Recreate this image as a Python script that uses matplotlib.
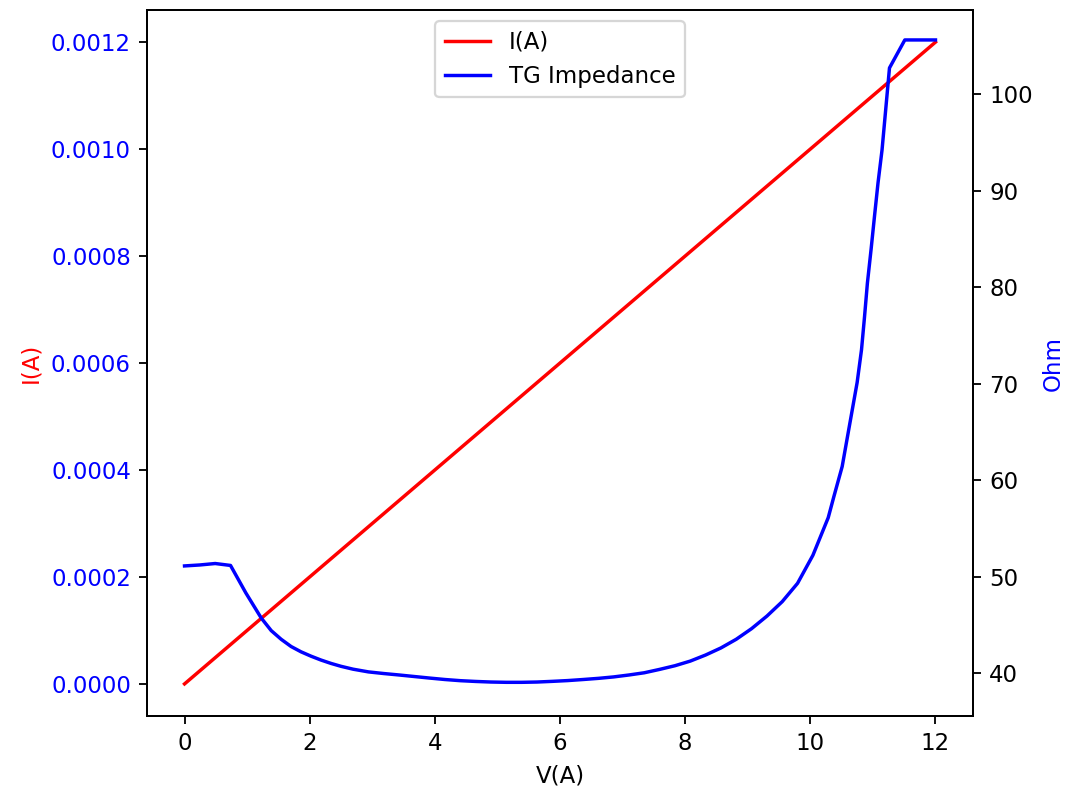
import matplotlib

matplotlib.use("Agg")
import matplotlib.pyplot as plt

# Sweep voltage (50 samples from 0 to 12) and current through the gate (A)
voltage = [
    0.0, 0.2449, 0.4898, 0.7347, 0.9796, 1.2245, 1.4694, 1.7143, 1.9592, 2.2041,
    2.4490, 2.6939, 2.9388, 3.1837, 3.4286, 3.6735, 3.9184, 4.1633, 4.4082, 4.6531,
    4.8980, 5.1429, 5.3878, 5.6327, 5.8776, 6.1224, 6.3673, 6.6122, 6.8571, 7.1020,
    7.3469, 7.5918, 7.8367, 8.0816, 8.3265, 8.5714, 8.8163, 9.0612, 9.3061, 9.5510,
    9.7959, 10.0408, 10.2857, 10.5306, 10.7755, 11.0204, 11.2653, 11.5102, 11.7551, 12.0,
]
current = [
    0.0, 2.449e-05, 4.898e-05, 7.347e-05, 9.796e-05, 1.2245e-04, 1.4694e-04, 1.7143e-04,
    1.9592e-04, 2.2041e-04, 2.4490e-04, 2.6939e-04, 2.9388e-04, 3.1837e-04, 3.4286e-04,
    3.6735e-04, 3.9184e-04, 4.1633e-04, 4.4082e-04, 4.6531e-04, 4.8980e-04, 5.1429e-04,
    5.3878e-04, 5.6327e-04, 5.8776e-04, 6.1224e-04, 6.3673e-04, 6.6122e-04, 6.8571e-04,
    7.1020e-04, 7.3469e-04, 7.5918e-04, 7.8367e-04, 8.0816e-04, 8.3265e-04, 8.5714e-04,
    8.8163e-04, 9.0612e-04, 9.3061e-04, 9.5510e-04, 9.7959e-04, 1.00408e-03, 1.02857e-03,
    1.05306e-03, 1.07755e-03, 1.10204e-03, 1.12653e-03, 1.15102e-03, 1.17551e-03, 1.2e-03,
]

# Transmission gate impedance (Ohm)
tg_voltage = [
    0.0, 0.245, 0.49, 0.735, 0.98, 1.226, 1.385, 1.544, 1.703, 1.862,
    2.021, 2.18, 2.34, 2.5, 2.694, 2.939, 3.184, 3.429, 3.673, 3.918,
    4.163, 4.408, 4.653, 4.898, 5.143, 5.388, 5.633, 5.878, 6.122, 6.367,
    6.612, 6.857, 7.102, 7.347, 7.592, 7.837, 8.082, 8.327, 8.571, 8.816,
    9.061, 9.306, 9.551, 9.796, 10.041, 10.286, 10.377, 10.509, 10.605, 10.748,
    10.818, 10.866, 10.912, 10.971, 11.025, 11.082, 11.146, 11.265, 11.51, 11.755,
    12.0,
]
tg_impedance = [
    51.1, 51.2, 51.35, 51.15, 48.3, 45.7, 44.4, 43.5, 42.75, 42.2,
    41.75, 41.35, 41.0, 40.7, 40.4, 40.12, 39.95, 39.8, 39.64, 39.48,
    39.33, 39.21, 39.13, 39.07, 39.04, 39.04, 39.07, 39.14, 39.22, 39.33,
    39.45, 39.6, 39.8, 40.03, 40.38, 40.76, 41.24, 41.87, 42.6, 43.5,
    44.6, 45.9, 47.4, 49.3, 52.2, 56.1, 58.3, 61.4, 64.9, 70.1,
    73.5, 76.9, 80.4, 83.9, 87.3, 90.8, 94.2, 102.7, 105.6, 105.6,
    105.6,
]

fig, ax1 = plt.subplots(figsize=(1076 / 165, 796 / 165), dpi=165)
fig.subplots_adjust(left=0.1366, right=0.9043, top=0.9874, bottom=0.1005)

l1, = ax1.plot(voltage, current, color="red", label="I(A)")
ax1.set_xlabel("V(A)")
ax1.set_ylabel("I(A)", color="red")
ax1.tick_params(axis="y", labelcolor="blue")

ax2 = ax1.twinx()
l2, = ax2.plot(tg_voltage, tg_impedance, color="blue", label="TG Impedance")
ax2.set_ylabel("Ohm", color="blue")
ax2.set_ylim(35.55, 108.7)

ax2.legend(handles=[l1, l2], loc="upper center")

fig.savefig("out.png", dpi=165)
